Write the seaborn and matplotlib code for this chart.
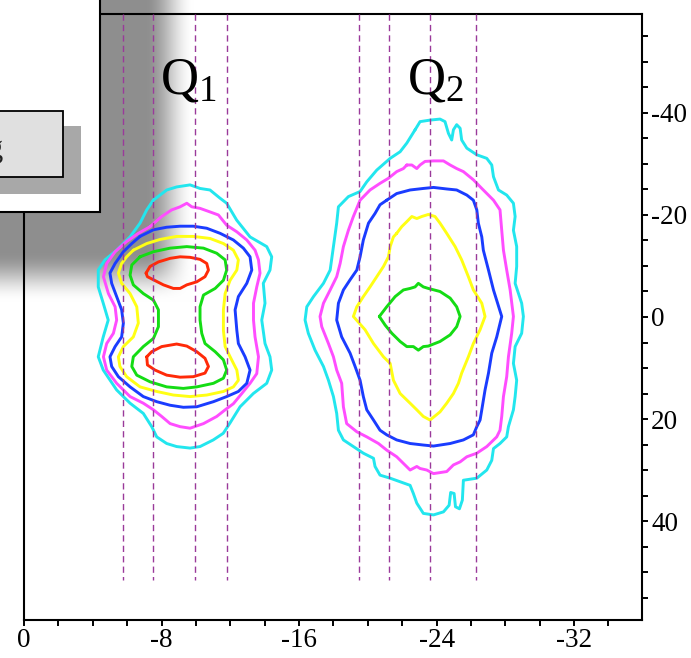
import numpy as np
import pandas as pd
import matplotlib
matplotlib.use("Agg")
import matplotlib.pyplot as plt
from matplotlib.patches import Rectangle
from matplotlib.ticker import MultipleLocator
import seaborn as sns

# ---------------------------------------------------------------- data
# contour levels, outermost to innermost, with their line colours
levels = ["c1", "c2", "c3", "c4", "c5", "c6"]
level_colors = ["#22e6ee", "#ff4dff", "#1a3cff", "#ffff14", "#14dc14", "#ff2a08"]

# positions of the vertical cut lines
cut_positions = [-5.75, -7.5, -9.93, -11.81, -19.49, -21.23, -23.62, -26.3]
peak_names = ["Q", "Q"]
peak_index = ["1", "2"]
peak_label_x = [-7.91, -22.28]
peak_label_y = [-43.9, -43.9]

x_ticks = [0, -8, -16, -24, -32]
y_ticks = [-40, -20, 0, 20, 40]

# ---- peak Q1
q1_c1 = [(-7.52, -22.9), (-8.30, -24.9), (-8.88, -25.5), (-9.66, -25.9), (-10.24, -25.2),
         (-10.82, -24.9), (-11.40, -23.3), (-11.79, -22.3), (-12.37, -19.0), (-13.15, -15.7),
         (-14.12, -13.8), (-14.41, -11.8), (-14.31, -9.2), (-13.92, -6.6), (-14.02, -2.7),
         (-13.83, 0.6), (-14.02, 5.2), (-14.31, 7.8), (-14.41, 10.4), (-14.12, 13.0),
         (-13.34, 15.0), (-12.57, 17.6), (-11.98, 20.8), (-11.59, 22.8), (-11.01, 24.1),
         (-10.24, 25.4), (-9.66, 25.7), (-8.88, 25.4), (-8.30, 24.8), (-7.72, 23.5),
         (-7.43, 21.5), (-6.94, 18.9), (-6.17, 16.9), (-5.39, 14.3), (-4.61, 10.4),
         (-4.32, 7.8), (-4.61, 3.9), (-4.90, 0.6), (-4.61, -2.7), (-4.32, -5.9),
         (-4.32, -9.2), (-4.71, -11.2), (-5.39, -13.1), (-6.17, -15.7), (-6.75, -18.4),
         (-7.14, -21.0)]
q1_c2 = [(-7.33, -17.7), (-8.01, -19.7), (-8.59, -21.0), (-9.08, -21.6), (-9.47, -22.3),
         (-9.76, -21.6), (-10.24, -21.3), (-10.82, -20.6), (-11.31, -20.0), (-11.79, -18.0),
         (-12.38, -16.7), (-12.96, -15.1), (-13.44, -13.1), (-13.64, -11.2), (-13.73, -8.6),
         (-13.54, -5.9), (-13.35, -2.7), (-13.35, 0.6), (-13.44, 3.9), (-13.64, 7.8),
         (-13.54, 11.1), (-13.15, 13.0), (-12.67, 15.0), (-12.18, 17.0), (-11.70, 18.2),
         (-11.21, 19.5), (-10.44, 20.9), (-9.66, 21.8), (-9.08, 21.5), (-8.50, 20.9),
         (-8.01, 19.5), (-7.53, 18.2), (-6.94, 16.9), (-6.17, 15.6), (-5.39, 13.0),
         (-4.81, 10.4), (-4.62, 7.8), (-4.81, 5.2), (-5.20, 3.2), (-5.39, 0.6),
         (-5.30, -2.0), (-4.91, -4.6), (-4.62, -7.9), (-4.81, -10.5), (-5.30, -12.8),
         (-5.97, -14.8), (-6.65, -16.4)]
q1_c3 = [(-6.75, -15.8), (-7.53, -17.1), (-8.30, -17.6), (-9.08, -17.8), (-9.85, -17.8),
         (-10.63, -17.4), (-11.41, -16.4), (-12.18, -15.1), (-12.76, -13.5), (-13.15, -11.8),
         (-13.25, -9.2), (-12.96, -6.6), (-12.47, -4.0), (-12.28, -1.4), (-12.38, 2.6),
         (-12.47, 5.2), (-12.86, 7.8), (-13.15, 10.4), (-12.96, 13.0), (-12.47, 14.6),
         (-11.79, 15.6), (-11.02, 16.6), (-10.05, 17.6), (-9.27, 17.7), (-8.50, 17.3),
         (-7.72, 16.6), (-6.94, 15.6), (-6.17, 13.7), (-5.49, 11.7), (-5.10, 9.7),
         (-5.00, 7.8), (-5.30, 5.8), (-5.68, 3.9), (-5.78, 1.2), (-5.68, -1.4),
         (-5.39, -4.0), (-5.10, -6.6), (-5.00, -8.6), (-5.30, -10.5), (-5.78, -12.8),
         (-6.27, -14.4)]
q1_c4 = [(-6.36, -13.1), (-7.14, -14.4), (-7.91, -15.2), (-8.88, -15.8), (-9.85, -15.8),
         (-10.82, -15.4), (-11.60, -14.4), (-12.18, -13.1), (-12.47, -11.2), (-12.38, -9.2),
         (-11.99, -7.2), (-11.70, -4.6), (-11.60, -1.4), (-11.60, 2.6), (-11.70, 5.8),
         (-11.99, 7.8), (-12.38, 10.4), (-12.47, 12.4), (-12.18, 13.7), (-11.60, 14.6),
         (-10.63, 15.3), (-9.66, 15.6), (-8.69, 15.3), (-7.72, 14.6), (-6.75, 13.7),
         (-5.97, 11.7), (-5.58, 9.7), (-5.49, 7.8), (-5.78, 5.8), (-6.36, 3.9),
         (-6.65, 1.2), (-6.56, -2.0), (-6.17, -4.6), (-5.68, -6.6), (-5.49, -8.6),
         (-5.68, -10.5), (-5.97, -11.8)]
q1_c5 = [(-6.75, -11.8), (-7.53, -12.8), (-8.50, -13.5), (-9.47, -13.8), (-10.44, -13.5),
         (-11.21, -12.5), (-11.70, -11.2), (-11.79, -9.2), (-11.60, -7.2), (-11.12, -5.6),
         (-10.44, -4.3), (-10.24, -2.0), (-10.24, 0.6), (-10.34, 3.2), (-10.53, 5.2),
         (-11.12, 6.8), (-11.60, 8.4), (-11.79, 10.4), (-11.60, 12.0), (-11.02, 13.0),
         (-10.05, 13.7), (-9.27, 14.0), (-8.30, 13.7), (-7.33, 12.7), (-6.56, 11.4),
         (-6.27, 9.7), (-6.36, 7.8), (-6.94, 5.8), (-7.53, 4.2), (-7.82, 1.9),
         (-7.82, -1.4), (-7.53, -3.3), (-6.94, -4.6), (-6.36, -6.3), (-6.17, -8.2),
         (-6.27, -10.2)]
q1_c6_top = [(-7.10, -8.6), (-7.33, -9.9), (-7.82, -10.8), (-8.50, -11.5), (-9.08, -11.8),
             (-9.66, -11.7), (-10.24, -11.3), (-10.63, -10.5), (-10.73, -9.2), (-10.53, -7.9),
             (-10.05, -6.9), (-9.47, -6.3), (-9.08, -5.6), (-8.69, -5.6), (-8.11, -6.3),
             (-7.53, -7.3), (-7.18, -7.9)]
q1_c6_bottom = [(-7.14, 7.8), (-7.43, 6.8), (-8.01, 5.8), (-8.88, 5.3), (-9.47, 5.7),
                (-10.05, 6.8), (-10.53, 8.1), (-10.73, 9.7), (-10.53, 11.0), (-9.85, 11.7),
                (-9.08, 11.8), (-8.30, 11.4), (-7.62, 10.4), (-7.18, 9.4)]

# ---- peak Q2
q2_c1 = [(-22.75, -36.7), (-23.04, -38.3), (-23.62, -38.6), (-24.20, -38.8), (-24.49, -38.3),
         (-24.69, -36.0), (-24.88, -34.7), (-24.98, -36.7), (-25.17, -37.7), (-25.37, -37.0),
         (-25.46, -34.7), (-25.76, -33.1), (-26.34, -31.8), (-26.92, -31.1), (-27.21, -29.8),
         (-27.31, -27.5), (-27.60, -24.9), (-28.08, -23.9), (-28.47, -22.3), (-28.57, -19.7),
         (-28.47, -17.0), (-28.66, -13.8), (-28.66, -9.9), (-28.57, -6.6), (-28.95, -2.7),
         (-29.05, -0.1), (-28.95, 3.2), (-28.57, 5.8), (-28.47, 9.1), (-28.66, 12.4),
         (-28.57, 15.6), (-28.47, 18.2), (-28.18, 21.5), (-28.08, 23.5), (-27.69, 24.8),
         (-27.31, 25.8), (-27.21, 28.1), (-26.92, 30.0), (-26.34, 31.6), (-25.56, 32.0),
         (-25.50, 35.9), (-25.33, 37.6), (-25.10, 37.2), (-25.02, 34.6), (-24.82, 34.4),
         (-24.73, 36.9), (-24.40, 38.2), (-23.82, 38.8), (-23.23, 38.5), (-22.85, 36.5),
         (-22.65, 34.6), (-22.46, 33.0), (-21.88, 32.3), (-21.30, 31.6), (-20.71, 31.0),
         (-20.42, 29.3), (-20.33, 27.7), (-19.74, 26.7), (-19.16, 25.4), (-18.58, 24.1),
         (-18.29, 22.2), (-18.19, 18.9), (-18.00, 15.6), (-17.71, 12.4), (-17.42, 9.7),
         (-16.93, 6.5), (-16.54, 3.2), (-16.35, 0.6), (-16.45, -2.0), (-16.84, -4.0),
         (-17.42, -6.6), (-17.81, -9.2), (-18.00, -13.8), (-18.19, -18.4), (-18.29, -21.6),
         (-18.87, -23.6), (-19.55, -24.6), (-19.94, -26.5), (-20.52, -28.8), (-21.30, -31.1),
         (-21.88, -32.4), (-22.27, -34.1)]
q2_c2 = [(-22.27, -29.8), (-22.56, -29.8), (-22.85, -29.1), (-23.04, -29.8), (-23.33, -30.5),
         (-23.82, -30.6), (-24.40, -30.6), (-24.79, -29.8), (-25.17, -29.1), (-25.56, -28.5),
         (-26.14, -26.9), (-26.63, -25.2), (-27.31, -22.9), (-27.69, -21.0), (-27.79, -17.0),
         (-27.89, -13.1), (-28.08, -9.2), (-28.28, -5.3), (-28.47, -0.1), (-28.37, 3.2),
         (-28.18, 7.8), (-28.08, 11.7), (-27.89, 15.6), (-27.79, 19.5), (-27.69, 22.2),
         (-27.50, 23.5), (-26.92, 25.4), (-26.34, 26.7), (-25.76, 27.4), (-25.37, 28.4),
         (-24.98, 29.0), (-24.59, 30.3), (-23.82, 30.7), (-23.43, 30.0), (-23.04, 29.7),
         (-22.85, 29.3), (-22.46, 30.0), (-22.07, 28.7), (-21.68, 27.4), (-21.10, 26.1),
         (-20.62, 24.8), (-19.94, 23.5), (-19.36, 22.5), (-18.77, 20.9), (-18.58, 17.6),
         (-18.48, 13.0), (-18.19, 10.4), (-18.00, 7.8), (-17.71, 5.2), (-17.32, 1.9),
         (-17.22, -0.1), (-17.42, -2.7), (-17.81, -5.3), (-18.19, -7.9), (-18.39, -10.5),
         (-18.58, -13.8), (-18.87, -17.0), (-19.16, -19.7), (-19.55, -22.9), (-20.13, -24.9),
         (-20.71, -26.2), (-21.20, -27.2), (-21.68, -28.5), (-22.07, -29.1)]
q2_c3 = [(-21.10, -22.9), (-21.68, -24.2), (-22.46, -24.9), (-23.23, -25.2), (-23.82, -25.4),
         (-24.59, -25.1), (-25.17, -24.9), (-25.76, -23.9), (-26.14, -22.9), (-26.34, -21.0),
         (-26.43, -18.4), (-26.63, -15.7), (-26.72, -13.1), (-27.02, -9.2), (-27.31, -5.3),
         (-27.79, -0.1), (-27.50, 3.9), (-27.21, 7.1), (-27.02, 11.0), (-26.82, 14.3),
         (-26.63, 18.2), (-26.53, 20.2), (-26.34, 21.5), (-26.14, 23.1), (-25.56, 24.1),
         (-24.79, 24.8), (-23.82, 25.3), (-23.23, 25.1), (-22.46, 24.8), (-21.68, 24.1),
         (-21.10, 23.1), (-20.71, 22.2), (-20.33, 20.2), (-19.94, 18.2), (-19.74, 15.6),
         (-19.55, 12.4), (-19.26, 9.7), (-18.97, 7.1), (-18.48, 3.9), (-18.19, 0.6),
         (-18.29, -2.7), (-18.58, -5.3), (-18.97, -7.3), (-19.36, -9.2), (-19.55, -11.8),
         (-19.74, -15.1), (-20.04, -18.4), (-20.42, -20.3), (-20.71, -22.0)]
q2_c4 = [(-21.68, -16.4), (-21.97, -17.7), (-22.27, -18.7), (-22.56, -19.7), (-22.85, -19.3),
         (-23.14, -19.7), (-23.52, -20.1), (-23.91, -19.7), (-24.20, -18.4), (-24.59, -16.4),
         (-25.08, -13.8), (-25.46, -11.2), (-25.85, -7.9), (-26.14, -5.3), (-26.63, -2.7),
         (-26.82, -0.1), (-26.53, 2.5), (-26.14, 5.2), (-25.85, 7.8), (-25.46, 11.0),
         (-25.27, 13.0), (-24.98, 15.0), (-24.59, 16.9), (-24.20, 18.6), (-23.62, 20.2),
         (-23.23, 19.5), (-22.85, 18.2), (-22.46, 16.9), (-21.88, 15.0), (-21.49, 12.4),
         (-21.30, 9.1), (-20.91, 7.8), (-20.33, 5.2), (-19.84, 2.5), (-19.16, -0.1),
         (-19.36, -2.0), (-19.74, -4.0), (-20.13, -5.9), (-20.52, -7.9), (-20.91, -9.9),
         (-21.20, -11.8), (-21.30, -13.8), (-21.49, -15.7)]
q2_c5 = [(-20.67, -0.1), (-21.10, -2.0), (-21.59, -4.0), (-22.07, -5.3), (-22.46, -5.6),
         (-22.75, -5.9), (-22.94, -6.6), (-23.23, -5.9), (-23.52, -5.6), (-24.20, -5.0),
         (-24.79, -3.7), (-25.17, -2.0), (-25.37, -0.1), (-25.17, 1.9), (-24.79, 3.5),
         (-24.20, 4.8), (-23.52, 5.7), (-23.23, 5.8), (-22.94, 6.5), (-22.65, 5.8),
         (-22.27, 5.8), (-21.88, 4.8), (-21.40, 3.2), (-21.01, 1.6)]

contours = [
    ("c1", q1_c1), ("c2", q1_c2), ("c3", q1_c3), ("c4", q1_c4), ("c5", q1_c5),
    ("c6", q1_c6_top), ("c6", q1_c6_bottom),
    ("c1", q2_c1), ("c2", q2_c2), ("c3", q2_c3), ("c4", q2_c4), ("c5", q2_c5),
]

rows = []
for cid, (level, pts) in enumerate(contours):
    for x, y in pts + [pts[0]]:
        rows.append({"contour": cid, "level": level, "x": x, "y": y})
df = pd.DataFrame(rows)

# ---------------------------------------------------------------- style
sns.set_theme(style="ticks")
plt.rcParams["font.family"] = ["Liberation Serif", "DejaVu Serif"]
plt.rcParams["mathtext.fontset"] = "stix"
plt.rcParams["axes.unicode_minus"] = False
plt.rcParams["lines.solid_joinstyle"] = "round"
plt.rcParams["lines.solid_capstyle"] = "round"

W, H = 691, 658
fig = plt.figure(figsize=(W / 100, H / 100), dpi=100, facecolor="white")


def fx(px):
    return px / W


def fy(py):
    return 1 - py / H


# soft grey shadow behind the top-left panel
bg = fig.add_axes([0, 0, 1, 1], zorder=0)
bg.set_axis_off()
xs = np.arange(W) + 0.5
ys = np.arange(H) + 0.5


def fade(v, a, b):
    t = np.clip((v - a) / (b - a), 0, 1)
    return 1 - t * t * (3 - 2 * t)


shade = 1 - 0.44 * np.outer(fade(ys, 252, 302), fade(xs, 146, 194))
bg.imshow(np.dstack([shade] * 3), extent=[0, W, H, 0], aspect="auto",
          interpolation="bilinear")
bg.set_xlim(0, W)
bg.set_ylim(H, 0)

# main plot
ax = fig.add_axes([fx(24), fy(620), fx(642) - fx(24), fy(14) - fy(620)], zorder=1)
ax.set_facecolor("none")

sns.lineplot(data=df, x="x", y="y", hue="level", units="contour", estimator=None,
             sort=False, palette=dict(zip(levels, level_colors)), linewidth=2.1,
             legend=False, ax=ax, zorder=2)

ax.vlines(cut_positions, ymin=-59.4, ymax=51.5, colors="#9a3a9a",
          linestyles=(0, (4.5, 3)), linewidth=1.0, zorder=3)

for name, idx, lx, ly in zip(peak_names, peak_index, peak_label_x, peak_label_y):
    ax.text(lx, ly, r"$\mathregular{%s_{%s}}$" % (name, idx), fontsize=38,
            ha="left", va="baseline", color="black", zorder=4)

ax.set_xlim(0, -35.95)
ax.set_ylim(59.4, -59.4)
ax.set_xlabel("")
ax.set_ylabel("")

ax.xaxis.set_major_locator(plt.FixedLocator(x_ticks))
ax.xaxis.set_minor_locator(MultipleLocator(2))
ax.yaxis.set_major_locator(plt.FixedLocator(y_ticks))
ax.yaxis.set_minor_locator(MultipleLocator(5))
ax.set_xticklabels([str(v) for v in x_ticks])
ax.set_yticklabels([str(v) for v in y_ticks])

ax.tick_params(axis="x", which="both", direction="out", length=4, width=1.4,
               bottom=True, top=False, labelsize=19.5, pad=2, colors="black")
ax.tick_params(axis="y", which="both", direction="out", length=4.5, width=1.4,
               left=False, right=True, labelleft=False, labelright=True,
               labelsize=19.5, pad=2, colors="black")
for s in ax.spines.values():
    s.set_visible(True)
    s.set_linewidth(1.5)
    s.set_color("black")

# top-left panel with a button
panel = Rectangle((fx(-5), fy(212)), fx(105), fy(-10) - fy(212),
                  transform=fig.transFigure, facecolor="white", edgecolor="black",
                  linewidth=1.5, zorder=5)
fig.add_artist(panel)
btn_shadow = Rectangle((fx(-5), fy(194)), fx(86), fy(126) - fy(194),
                       transform=fig.transFigure, facecolor="#a8a8a8",
                       edgecolor="none", zorder=6)
fig.add_artist(btn_shadow)
button = Rectangle((fx(-5), fy(177)), fx(68), fy(111) - fy(177),
                   transform=fig.transFigure, facecolor="#e0e0e0", edgecolor="black",
                   linewidth=1.3, zorder=7)
fig.add_artist(button)
fig.text(fx(3), fy(157), "g", fontsize=22, ha="right", va="baseline",
         color="#222222", zorder=8)

fig.savefig("out.png", dpi=100, facecolor="white")
